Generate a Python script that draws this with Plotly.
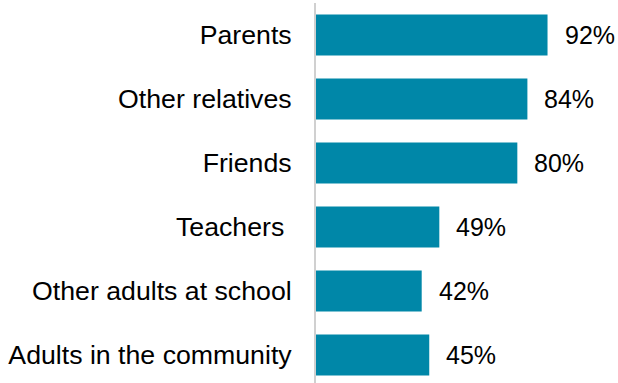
import plotly.graph_objects as go

categories = ["Parents", "Other relatives", "Friends", "Teachers\u00a0", "Other adults at school", "Adults in the community"]
values = [92, 84, 80, 49, 42, 45]
value_labels = ["92%", "84%", "80%", "49%", "42%", "45%"]

BAR = "#0087A8"
FONT = "Liberation Sans, Arial, sans-serif"

fig = go.Figure(go.Bar(
    x=values, y=categories, orientation="h",
    marker=dict(color=BAR, line=dict(width=0)),
    hoverinfo="skip",
))

for c, v, t in zip(categories, values, value_labels):
    fig.add_annotation(x=v, y=c, text=t, showarrow=False, xanchor="left",
                       xshift=15, font=dict(size=25, color="#000000", family=FONT))

fig.update_layout(
    width=618, height=383,
    margin=dict(l=316, r=0, t=3, b=0),
    paper_bgcolor="white", plot_bgcolor="white",
    bargap=0.36, showlegend=False,
    font=dict(family=FONT, color="#000000"),
)
fig.update_xaxes(range=[0, 120], visible=False, showgrid=False, zeroline=False)
fig.update_yaxes(
    categoryorder="array", categoryarray=categories,
    range=[5.4375, -0.5], showgrid=False, zeroline=False,
    showline=True, linecolor="#D0D0D0", linewidth=2,
    ticks="", ticklabelstandoff=17,
    tickfont=dict(size=26.7, color="#000000", family=FONT),
)

fig.write_html("out.html")
